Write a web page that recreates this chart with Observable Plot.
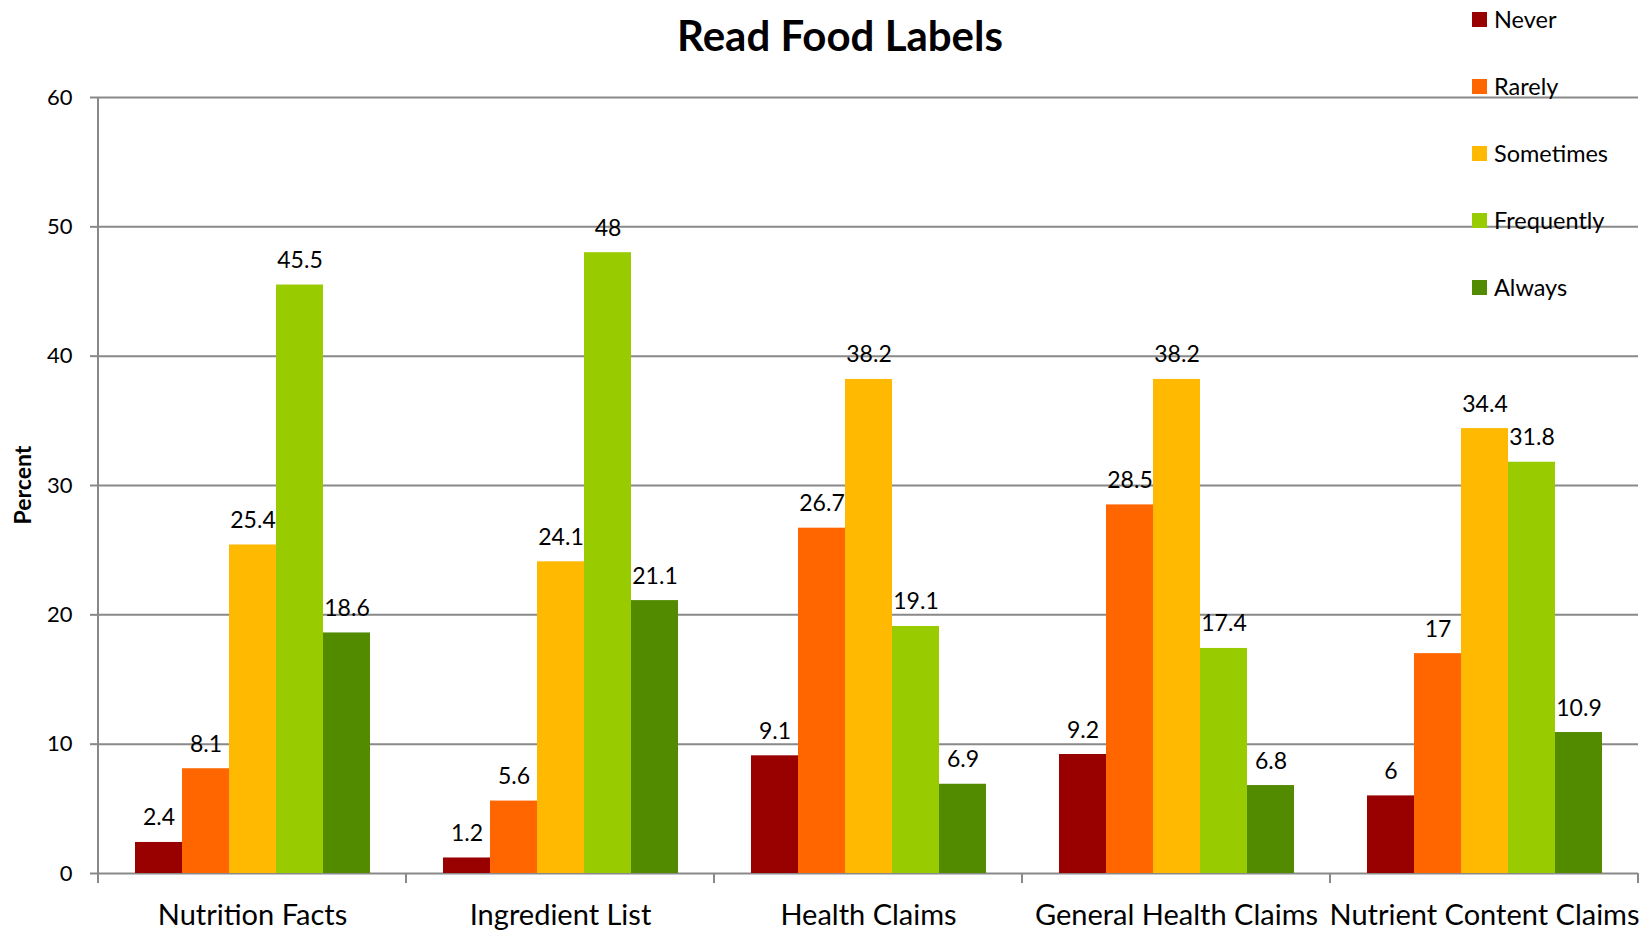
<!DOCTYPE html>
<html><head><meta charset="utf-8">
<script src="https://cdn.jsdelivr.net/npm/d3@7"></script>
<script src="https://cdn.jsdelivr.net/npm/@observablehq/plot@0.6"></script>
<style>
body{margin:0;background:#fff;}
#wrap{position:relative;width:1652px;height:932px;font-family:Lato,sans-serif;color:#000;}
#title{position:absolute;left:840px;top:14px;transform:translateX(-50%);font-size:42px;line-height:42px;font-weight:700;white-space:nowrap;}
#ylabel{position:absolute;left:22px;top:485px;transform:translate(-50%,-50%) rotate(-90deg);font-size:23px;font-weight:700;white-space:nowrap;line-height:23px;}
#legend{position:absolute;left:1472px;top:8px;display:flex;flex-direction:column;gap:44px;}
.row{display:flex;align-items:center;height:23px;font-size:23.5px;line-height:23px;white-space:nowrap;}
.sw{width:15px;height:15px;margin-right:7px;}
</style></head>
<body>
<div id="wrap"><div id="chart"></div><div id="title">Read Food Labels</div><div id="ylabel">Percent</div><div id="legend"></div></div>
<script>
const categories = ["Nutrition Facts", "Ingredient List", "Health Claims", "General Health Claims", "Nutrient Content Claims"];
const seriesNames = ["Never", "Rarely", "Sometimes", "Frequently", "Always"];
const seriesColors = ["#990000", "#FF6600", "#FFB900", "#99CC00", "#528A00"];
const never = [2.4, 1.2, 9.1, 9.2, 6];
const rarely = [8.1, 5.6, 26.7, 28.5, 17];
const sometimes = [25.4, 24.1, 38.2, 38.2, 34.4];
const frequently = [45.5, 48, 19.1, 17.4, 31.8];
const always = [18.6, 21.1, 6.9, 6.8, 10.9];
const yTicks = [0, 10, 20, 30, 40, 50, 60];

const seriesValues = [never, rarely, sometimes, frequently, always];
const data = [];
seriesNames.forEach((s, i) => categories.forEach((c, j) => data.push({category: c, series: s, value: seriesValues[i][j]})));

const gridColor = "#898989";
const chart = Plot.plot({
  width: 1652, height: 932,
  marginLeft: 97, marginRight: 14, marginTop: 97, marginBottom: 59,
  style: {fontFamily: "Lato, sans-serif", fontSize: "22px", color: "#000", background: "#fff", overflow: "visible"},
  fx: {domain: categories, padding: 0, label: null},
  x: {domain: seriesNames, paddingInner: 0, paddingOuter: 0.74, axis: null},
  y: {domain: [0, 60], axis: null},
  color: {domain: seriesNames, range: seriesColors},
  marks: [
    Plot.ruleY(yTicks, {stroke: gridColor, strokeWidth: 2}),
    Plot.barY(data, {fx: "category", x: "series", y: "value", fill: "series"}),
    Plot.text(data, {fx: "category", x: "series", y: "value", text: d => String(d.value), lineAnchor: "bottom", dy: -17, fontSize: 23, fill: "#000"}),
    Plot.axisY(yTicks, {anchor: "left", tickSize: 8, tickPadding: 18, stroke: gridColor, strokeWidth: 2, fill: "#000", fontSize: 22, label: null}),
    Plot.axisFx({anchor: "bottom", tickSize: 0, tickPadding: 31, fontSize: 29, fill: "#000", label: null})
  ]
});
document.getElementById("chart").appendChild(chart);

// axis line and category boundary ticks, from the plot's own scales
const fx = chart.scale("fx"), y = chart.scale("y");
const edges = categories.map(c => fx.apply(c)).concat([fx.apply(categories[categories.length - 1]) + fx.bandwidth]);
const y0 = y.apply(0), yTop = y.apply(60);
const svg = d3.select(chart);
svg.append("line").attr("x1", edges[0]).attr("x2", edges[0]).attr("y1", yTop).attr("y2", y0 + 10)
  .attr("stroke", gridColor).attr("stroke-width", 2);
svg.append("g").selectAll("line").data(edges).join("line")
  .attr("x1", d => d).attr("x2", d => d).attr("y1", y0).attr("y2", y0 + 10)
  .attr("stroke", gridColor).attr("stroke-width", 2);

// legend
const legend = d3.select("#legend");
seriesNames.forEach((s, i) => {
  const row = legend.append("div").attr("class", "row");
  row.append("div").attr("class", "sw").style("background", seriesColors[i]);
  row.append("span").text(s);
});
</script>
</body></html>
